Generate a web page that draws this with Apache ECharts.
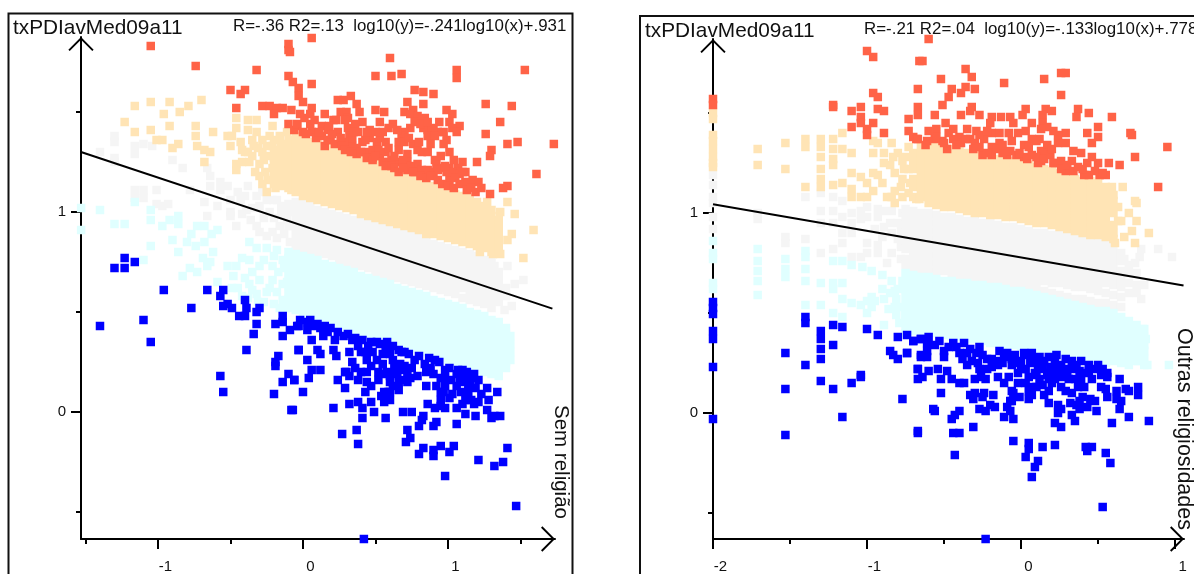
<!DOCTYPE html>
<html>
<head>
<meta charset="utf-8">
<style>html,body{margin:0;padding:0;background:#fff;overflow:hidden}#chart{width:1194px;height:574px}</style>
<script src="https://cdn.jsdelivr.net/npm/echarts@6/dist/echarts.min.js"></script>
</head>
<body>
<div id="chart"></div>
<script>
const majorTicksL = [-1, 0, 1];
const minorTicksL = [-1.5, -0.5, 0.5, 1.5];
const majorTicksR = [-2, -1, 0, 1];
const minorTicksR = [-1.5, -0.5, 0.5];
const majorTicksY = [0, 1];
const minorTicksY = [-0.5, 0.5, 1.5];
const fitL = [[-1.531, 1.3], [1.72, 0.517]];
const fitR = [[-2, 1.044], [1.055, 0.638]];

// left panel (Sem religião), single points
const redL = [[-1.05,1.83],[-.74,1.73],[-.32,1.71],[-.1,1.81],[-.1,1.84],[-.09,1.8],[-.5,1.61],[-.4,1.61],[-.43,1.59],[-.46,1.52],[-.1,1.68],[-.07,1.65],[-.03,1.62],[-.03,1.58],[-.28,1.53],[-.23,1.53],[-.18,1.52],[-.14,1.52],[-.2,1.49],[-.08,1.51],[-.1,1.44],[-.04,1.43],[-.06,1.41],[.06,1.87],[.6,1.77],[.5,1.68],[.61,1.68],[.68,1.69],[1.06,1.71],[1.06,1.67],[1.53,1.71],[.06,1.64],[0,1.55],[.77,1.61],[.83,1.6],[.9,1.59],[.33,1.58],[.24,1.56],[.28,1.56],[.37,1.54],[.72,1.55],[.83,1.54],[1.26,1.54],[1.44,1.53],[1.36,1.45],[1.26,1.39],[1.41,1.34],[1.48,1.35],[1.73,1.34],[1.3,1.31],[1.29,1.28],[1.61,1.19],[1.41,1.13],[1.38,1.12],[1.29,1.09],[1.2,1.25],[1.1,1.25],[1.01,1.3],[.92,1.24],
[.06,1.52],[.05,1.49],[.15,1.49],[.21,1.46],[.26,1.5],[.3,1.5],[.31,1.47],[.29,1.46],[.39,1.5],[.5,1.51],[.56,1.5],[.7,1.5],[.76,1.51],[.74,1.49],[.79,1.48],[.84,1.47],[.99,1.51],[1.03,1.49],[.94,1.45],[1.01,1.45],[1.08,1.43],[1.03,1.42],[1.06,1.4],[.97,1.4],[.93,1.4],[.99,1.36],[.97,1.34],[.9,1.42],[.86,1.41],[.83,1.42],[.86,1.38],[.74,1.42],[.7,1.4],[.68,1.38],[.66,1.35],[.76,1.34],[.82,1.3],[.86,1.3],
[-.04,1.44],[.05,1.44],[0,1.4],[.06,1.4],[.13,1.43],[.17,1.41],[.13,1.38],[.24,1.4],[.31,1.42],[.41,1.45],[.53,1.45],[.62,1.44],[.59,1.42],[.46,1.41],[.38,1.4],[.32,1.38],[.29,1.35],[.34,1.33],[.41,1.35],[.46,1.37],[.51,1.35],[.57,1.35],[.43,1.3],[.48,1.31],[.53,1.28],[.59,1.25],[.66,1.31],[.72,1.29],[.72,1.25],[.72,1.21],[.79,1.24],[.86,1.21],[.9,1.2],[.96,1.22],[1.01,1.22],[1.07,1.22],[1.01,1.16],[1.12,1.15],[1.17,1.16],[1.21,1.15],[1.03,1.2],[.99,1.2],
[.36,1.44],[.34,1.37],[.37,1.32],[.43,1.36],[.52,1.31],[.57,1.3],[.61,1.26],[.66,1.25],[.69,1.26],[.63,1.28],[.74,1.23],[.77,1.2],[.82,1.21],[.93,1.21],[.98,1.23],[1.08,1.19],[1.05,1.17],[1.1,1.2],[.19,1.36],[.22,1.34],[.26,1.37],[.15,1.33],[.08,1.46],[-.02,1.49],[.01,1.47],[.77,1.45],[.81,1.44],[.86,1.45],[.91,1.38],[.53,1.37],[.59,1.32],[.48,1.27],[.7,1.35],[.79,1.31],[.91,1.26],
[.02,1.39],[.09,1.37],[.11,1.4],[.17,1.36],[.2,1.39],[.27,1.33],[.29,1.31],[.33,1.3],[.37,1.29],[.4,1.3],[.44,1.27],[.48,1.26],[.5,1.28],[.55,1.25],[.57,1.23],[.61,1.23],[.63,1.22],[.66,1.2],[.69,1.22],[.76,1.2],[.81,1.18],[.85,1.17],[.88,1.18],[.93,1.16],[.96,1.14],[1,1.13],[1.04,1.12],[1.08,1.14],[1.13,1.11],[1.16,1.12],[1.19,1.1],[1.23,1.12],[.18,1.43],[.23,1.46],[.35,1.4],[.44,1.4],[.5,1.4],[.55,1.4],[.65,1.41],[.73,1.37],[.8,1.35],[.88,1.34],[.95,1.28],[1.04,1.26],[1.12,1.2]];
const tanSparseL = [[-1.16,1.53],[-1.05,1.55],[-.92,1.55],[-.96,1.49],[-.85,1.5],[-.79,1.53],[-.7,1.56],[-1.23,1.45],[-1.16,1.4],[-1.05,1.41],[-.92,1.43],[-1.01,1.36],[-.97,1.36],[-.86,1.34],[-.9,1.32],[-.74,1.43],[-.74,1.38],[-.62,1.4],[-.73,1.33],[-.68,1.31],[-.64,1.3],[-.68,1.25],[-.46,1.47],[-.46,1.42],[-.38,1.46],[-.32,1.46],[-.38,1.41],[-.32,1.4],[-.21,1.43],[-.52,1.38],[-.49,1.38],[-.5,1.33],[-.43,1.35],[-.4,1.3],[-.46,1.24],[-.46,1.21],[-.37,1.25],[-.3,1.24],[-.34,1.33],[-.28,1.36],[-.23,1.38],[-.28,1.3],[-.21,1.33],[-.21,1.22],[-.16,1.38],[-.11,1.4],[-.16,1.27],[-.09,1.31],[-.14,1.2],[-.08,1.11],[-.07,1.18],
[1.27,1.05],[1.41,1.05],[1.36,1],[1.28,.98],[1.46,.99],[1.59,.91],[1.44,.89],[1.41,.86],[1.52,.77],[1.31,.79],[1.36,.79],[1.22,.8],
[-.38,1.3],[-.35,1.28],[-.33,1.2],[-.31,1.32],[-.27,1.26],[-.26,1.2],[-.25,1.33],[-.24,1.28],[-.24,1.16],[-.3,1.18],[-.35,1.36],[-.42,1.25],[-.42,1.31],[-.28,1.14],[-.25,1.1],[-.19,1.12]];
const graySparseL = [[-1.3,1.38],[-1.3,1.35],[-1.4,1.3],[-1.3,1.27],[-1.3,1.25],[-1.16,1.33],[-1.16,1.29],[-1.1,1.34],[-1.04,1.33],[-.9,1.26],[-.83,1.22],[-.66,1.22],[-1.16,1.11],[-1.16,1.07],[-1.1,1.11],[-1.1,1.07],[-1.01,1.11],[-1.01,1.04],[-.97,1.03],[-.93,1.04],[-.78,1.11],[-.68,1.05],[-.66,.98],[-.59,1.03],[-.64,1.18],[-.64,1.13],[-.57,1.15],[-.57,1.11],[-.52,1.13],[-.5,1.06],[-.5,.98],[-.46,.93],[-.43,1.06],[-.39,1.01],[-.38,1.13],[-.32,1.08],[-.32,.93],[-.28,1.1],[-.21,1.06],[-.23,1],[-.14,1.03],[-.3,.9],[-.21,.9],[-.09,.85],[-.07,.93],[-.11,.96],[-.16,.93],[-.1,1.04],[-.1,1],[-.15,.99],[-.15,1.02],
[1.41,.73],[1.32,.73],[1.46,.64],[1.52,.66],[1.39,.51],[1.44,.53],[1.31,.57],
[-.5,1],[-.45,1.1],[-.42,.99],[-.4,1.08],[-.36,.96],[-.35,1.02],[-.3,1.03],[-.27,.97],[-.25,1.06],[-.25,.88],[-.2,.97],[-.18,1.06],[-.18,.87],[-.13,.89],[-.12,.98],[-.1,.93],[-.05,.8]];
const cyanSparseL = [[-1.53,1.02],[-1.53,.91],[-1.4,1.01],[-1.3,.94],[-1.23,.94],[-1.16,1.05],[-1.05,1.01],[-1.05,.96],[-1.1,.76],[-1.05,.83],[-.97,.93],[-.92,.96],[-.86,.98],[-.86,.94],[-.9,.86],[-.86,.8],[-.83,.68],[-.78,.72],[-.73,.7],[-.73,.93],[-.68,.93],[-.59,.91],[-.63,.89],[-.77,.89],[-.8,.85],[-.74,.83],[-.68,.85],[-.62,.8],[-.69,.77],[-.64,.75],[-.66,.73],[-.59,.65],[-.52,.73],[-.46,.73],[-.42,.77],[-.37,.85],[-.32,.82],[-.25,.82],[-.18,.81],[-.09,.78],[-.14,.76],[-.37,.76],[-.3,.73],[-.21,.73],[-.48,.68],[-.37,.64],[-.3,.66],[-.21,.66],[-.09,.7],[-.11,.65],[-.49,.62],[-.35,.61],[-.32,.59],[-.25,.6],[-.14,.56],[-.09,.57],[-.07,.53],[-.31,.55],[-.38,.57],
[-.45,.62],[-.4,.67],[-.35,.7],[-.27,.76],[-.27,.55],[-.23,.62],[-.2,.78],[-.18,.6],[-.17,.7],[-.14,.64],[-.13,.72],[-.12,.52],[-.16,.52],[-.2,.54],[-.42,.58]];
const blueL = [[-1.3,.72],[-1.23,.77],[-1.16,.75],[-1.23,.72],[-1.4,.43],[-1.1,.46],[-1.05,.35],[-.96,.61],[-.77,.52],[-.66,.61],[-.55,.61],[-.57,.58],[-.55,.53],[-.52,.54],[-.49,.52],[-.4,.56],[-.39,.52],[-.44,.48],[-.4,.48],[-.32,.5],[-.3,.52],[-.32,.44],[-.34,.39],[-.39,.31],[-.57,.18],[-.55,.1],[-.2,.09],[-.08,.01],[-.14,.15],[-.1,.19],[-.06,.16],[-.19,.23],[-.19,.25],[-.17,.28],[-.14,.38],[-.09,.41],[-.19,.44],[-.14,.45],[-.14,.48],[-.03,.43],[-.03,.31],
[.42,-.635],[1.47,-.47],[.98,-.32],[1.21,-.24],[1.32,-.27],[1.38,-.25],[1.41,-.18],[.8,-.21],[.83,-.18],[.9,-.19],[.9,-.22],[.95,-.17],[1.04,-.17],[1.01,-.2],[.38,-.16],[.27,-.11],[.37,-.09],[.71,-.15],[.74,-.13],[.72,-.09],[.8,-.07],[.82,-.04],[.83,-.02],[.9,-.07],[.92,-.05],[1.06,-.06],[1.19,-.02],[1.3,-.03],[1.36,-.02],[1.32,-.02],[1.27,.01],[1.12,-.01],[.41,-.03],[.57,-.03],[.49,0],[.21,.02],[-.07,.01],[.32,.04],[.38,.05],[.41,.02],[.47,.05],[.69,0],[.75,0],[.86,.04],[.91,.02],[.98,.02],[1.06,.02],[1.1,.04],[1.12,.06],
[0,.1],[.04,.17],[-.06,.16],[.06,.21],[.12,.21],[.03,.26],[-.03,.31],[.12,.29],[.1,.31],[.21,.31],[.23,.28],[.29,.12],[.24,.16],[.29,.2],[.43,.1],[.44,.15],[.57,.07],[.54,.08],[.59,.1],[.66,.11],
[-.04,.43],[.03,.45],[.03,.41],[.08,.43],[.12,.42],[.14,.38],[.06,.36],[.17,.4],[.22,.36],[.28,.38],[.34,.36],[.32,.3],[.38,.33],[.45,.33],[.51,.35],[.57,.33],[.66,.31],[.7,.3],[.77,.26],[.91,.26],[.84,.24],[.98,.21],[1.1,.21],[1.06,.19],
[.34,.25],[.44,.26],[.51,.26],[.55,.24],[.62,.26],[.67,.24],[.3,.2],[.44,.2],[.52,.2],[.58,.2],[.65,.19],[.72,.2],[.79,.18],[.9,.19],[.98,.17],[1.17,.17],[1.21,.16],
[.38,.16],[.52,.16],[.6,.15],[.7,.16],[.74,.17],[.85,.13],[.92,.13],[1.06,.13],[1.1,.15],[1.14,.13],[1.19,.12],[1.27,.12],[1.34,.1],[1.23,.09],[1.28,.06],[1.21,.05],[1.13,.08],[1.03,.09],[.95,.1],[.95,.06],[1.01,.07],[.6,.1],
[-.02,.46],[.05,.46],[.1,.44],[.15,.43],[.19,.42],[.24,.4],[.31,.39],[.36,.37],[.41,.36],[.47,.35],[.53,.34],[.58,.35],[.62,.33],[.68,.3],[.73,.29],[.8,.28],[.87,.27],[.94,.25],[1.01,.22],[1.07,.21],[1.13,.2],[1.18,.19],[.4,.3],[.43,.3],[.48,.3],[.55,.29],[.6,.29],[.63,.22],[.68,.21],[.7,.23],[.75,.22],[.85,.2],[.88,.22],[.95,.17],[1.02,.16],[1.08,.17],[1.12,.18],[1.15,.16],[.36,.22],[.4,.2],[.47,.23],[.55,.19],[.6,.18],[.66,.15],[.72,.15],[.98,.13],[1.14,.1],[.32,.18],[.47,.13],[.56,.1],[.62,.13],[.6,.06],[.56,.05],[.95,.03],[.97,.1],[1.09,.1],[1.16,.06],[1.18,.04]];

// left panel, dense bands as [x, [y, y, ...]]
const tanBandL = [[-.2,[1.36,1.31,1.27,1.24,1.2,1.17,1.14]],[-.15,[1.34,1.3,1.27,1.23,1.2,1.16,1.13]],[-.1,[1.36,1.33,1.29,1.26,1.22,1.19,1.15,1.12]],[-.05,[1.38,1.34,1.31,1.27,1.24,1.2,1.17,1.13,1.1]],
[0,[1.37,1.33,1.3,1.26,1.23,1.19,1.15,1.12,1.08]],[.05,[1.35,1.32,1.28,1.25,1.21,1.17,1.14,1.1,1.07]],[.1,[1.34,1.31,1.27,1.23,1.2,1.16,1.13,1.09,1.06]],[.15,[1.33,1.29,1.26,1.22,1.19,1.15,1.12,1.08,1.05]],[.2,[1.32,1.28,1.25,1.21,1.17,1.14,1.1,1.07,1.04]],[.25,[1.3,1.27,1.23,1.2,1.16,1.13,1.09,1.06,1.03]],[.3,[1.29,1.25,1.22,1.18,1.15,1.11,1.08,1.04,1.02]],[.35,[1.28,1.24,1.21,1.17,1.14,1.1,1.07,1.03,1.01]],[.4,[1.26,1.23,1.19,1.16,1.12,1.09,1.05,1.02,.99]],[.45,[1.25,1.21,1.18,1.14,1.11,1.07,1.04,1.01,.98]],[.5,[1.24,1.2,1.17,1.13,1.1,1.06,1.03,.99,.97]],[.55,[1.22,1.19,1.15,1.12,1.08,1.05,1.01,.98,.96]],[.6,[1.21,1.17,1.14,1.1,1.07,1.03,1,.97,.95]],[.65,[1.2,1.16,1.13,1.09,1.05,1.02,.99,.96,.94]],[.7,[1.18,1.15,1.11,1.08,1.04,1.01,.97,.94,.93]],[.75,[1.17,1.13,1.1,1.06,1.03,.99,.96,.93,.92]],[.8,[1.16,1.12,1.09,1.05,1.01,.98,.95,.92,.91]],[.85,[1.14,1.11,1.07,1.04,1,.97,.94,.91,.89]],[.9,[1.13,1.09,1.06,1.02,.99,.95,.92,.89]],[.95,[1.12,1.08,1.05,1.01,.98,.94,.91,.88]],[1,[1.11,1.07,1.04,1,.97,.93,.9,.87]],[1.05,[1.09,1.06,1.02,.99,.95,.92,.89,.86]],[1.1,[1.08,1.05,1.01,.98,.94,.91,.88,.85]],[1.15,[1.07,1.03,1,.96,.93,.9,.87,.84]],[1.2,[1.05,1.02,.98,.95,.92,.89,.86,.83]],[1.25,[1.03,1,.97,.94,.91,.88,.85,.82]],[1.3,[1.01,.98,.95,.92,.89,.86,.83,.8]],[1.35,[.96,.93,.9,.87,.84,.81]]];
const grayBandL = [[-.05,[1.05,1.01,.98,.94,.91,.87,.84]],[0,[1.04,1,.97,.93,.9,.86,.82]],[.05,[1.03,.99,.96,.92,.89,.85,.81]],[.1,[1.01,.98,.94,.91,.87,.84,.8]],[.15,[1,.97,.93,.9,.86,.82,.79]],[.2,[.99,.95,.92,.88,.85,.81,.78]],[.25,[.98,.94,.91,.87,.84,.8,.76]],[.3,[.97,.93,.9,.86,.83,.79,.75]],[.35,[.96,.92,.88,.85,.81,.78,.74]],[.4,[.95,.91,.87,.84,.8,.77,.73]],[.45,[.94,.9,.86,.83,.79,.75,.72]],[.5,[.93,.89,.85,.82,.78,.74,.7]],[.55,[.92,.88,.84,.81,.77,.73,.69]],[.6,[.91,.87,.83,.8,.76,.72,.68]],[.65,[.9,.86,.82,.79,.75,.71,.67]],[.7,[.89,.85,.81,.78,.74,.7,.66]],[.75,[.88,.84,.8,.77,.73,.69,.65]],[.8,[.87,.83,.79,.75,.72,.68,.64]],[.85,[.85,.82,.78,.74,.71,.67,.63]],[.9,[.84,.81,.77,.73,.7,.66,.62]],[.95,[.83,.8,.76,.72,.69,.65,.61]],[1,[.82,.78,.75,.71,.67,.64,.6]],[1.05,[.81,.77,.74,.7,.66,.63,.59]],[1.1,[.8,.76,.73,.69,.65,.62,.57]],[1.15,[.79,.75,.72,.68,.64,.6,.56]],[1.2,[.78,.74,.7,.67,.63,.59,.55]],[1.25,[.76,.73,.69,.65,.62,.58,.54]],[1.3,[.75,.71,.68,.64,.6,.56,.52]],[1.35,[.7,.67,.63,.59,.55]],[1.4,[.62,.58]]];
const cyanBandL = [[-.1,[.8,.77,.73,.7,.66,.63,.59,.56,.52]],[-.05,[.79,.76,.72,.69,.65,.62,.58,.55,.51]],[0,[.78,.74,.71,.67,.64,.6,.57,.53,.49]],[.05,[.77,.73,.7,.66,.63,.59,.56,.52,.48]],[.1,[.76,.72,.69,.65,.62,.58,.55,.51,.47]],[.15,[.74,.71,.67,.64,.6,.57,.53,.5,.46]],[.2,[.73,.7,.66,.63,.59,.56,.52,.48,.45]],[.25,[.72,.68,.65,.61,.58,.54,.51,.47,.43]],[.3,[.71,.67,.64,.6,.57,.53,.5,.46,.42]],[.35,[.7,.66,.62,.59,.55,.52,.48,.45,.41]],[.4,[.68,.65,.61,.58,.54,.5,.47,.43,.4]],[.45,[.67,.63,.6,.56,.53,.49,.46,.42,.39]],[.5,[.66,.62,.59,.55,.52,.48,.45,.41,.38]],[.55,[.65,.61,.58,.54,.5,.47,.43,.4,.36]],[.6,[.64,.6,.56,.53,.49,.46,.42,.39,.35]],[.65,[.62,.59,.55,.52,.48,.44,.41,.37,.34]],[.7,[.61,.58,.54,.5,.47,.43,.4,.36,.33]],[.75,[.6,.56,.53,.49,.46,.42,.38,.35,.32]],[.8,[.59,.55,.52,.48,.44,.41,.37,.34,.31]],[.85,[.58,.54,.5,.47,.43,.4,.36,.33,.3]],[.9,[.56,.53,.49,.46,.42,.38,.35,.31,.28]],[.95,[.55,.52,.48,.44,.41,.37,.34,.3,.27]],[1,[.54,.5,.47,.43,.4,.36,.33,.29,.26]],[1.05,[.53,.49,.46,.42,.38,.35,.31,.28,.25]],[1.1,[.52,.48,.44,.41,.37,.34,.3,.27,.24]],[1.15,[.5,.47,.43,.4,.36,.33,.29,.26,.23]],[1.2,[.49,.46,.42,.38,.35,.31,.28,.24,.21]],[1.25,[.48,.44,.41,.37,.34,.3,.26,.23,.2]],[1.3,[.46,.43,.39,.36,.32,.29,.25,.22,.19]],[1.35,[.45,.41,.38,.34,.31,.27,.24,.2,.18]],[1.4,[.42,.39,.35,.32,.28,.25,.22]],[1.43,[.38,.34,.3,.26]]];

// right panel (Outras religiosidades), single points
const redR = [[-2,1.57],[-2,1.54],[-1,1.81],[-.96,1.78],[-.96,1.6],[-.93,1.58],[-1.22,1.54],[-1.22,1.53],[-1.1,1.51],[-1.04,1.53],[-.93,1.52],[-.89,1.51],[-1.04,1.48],[-1.04,1.45],[-.96,1.45],[-1.1,1.43],[-1,1.42],[-1,1.39],[-.89,1.4],[-.73,1.47],[-.73,1.41],[-.7,1.38],[-.68,1.37],[-.67,1.62],[-.67,1.53],[-.67,1.49],[-.66,1.76],
[-.6,1.87],[-.64,1.76],[-.36,1.72],[-.32,1.68],[-.52,1.67],[-.45,1.62],[-.36,1.63],[-.3,1.62],[-.39,1.6],[-.47,1.58],[-.11,1.65],[.15,1.67],[.26,1.7],[.29,1.7],[.26,1.59],[-.51,1.54],[-.32,1.53],[-.33,1.51],[-.56,1.49],[-.39,1.49],[-.27,1.49],[.03,1.52],[.16,1.52],[.2,1.51],[.37,1.52],[.44,1.5],[.36,1.48],[.59,1.48],[-.07,1.48],[.01,1.49],[.14,1.49],[-.19,1.48],[-.13,1.48],[-.2,1.45],[-.05,1.45],[.07,1.45],[.14,1.45],[.5,1.43],[.43,1.4],[.5,1.38],[.46,1.35],[.71,1.4],[.72,1.39],[.95,1.33],[.74,1.28],[.89,1.13],[.57,1.25],[.64,1.24],[.5,1.25],[.43,1.25],[.55,1.19],[.51,1.19],[.41,1.19],[.44,1.19],[.39,1.3],[.46,1.28],[.33,1.26],[.29,1.21],[.22,1.25],[.26,1.26],[.17,1.34],[.24,1.35],[.29,1.35],[.29,1.4],[.24,1.39],[.21,1.41],[.17,1.43],[.13,1.42],[.12,1.37],[.07,1.37],[.03,1.41],[-.02,1.4],[-.08,1.4],[.02,1.34],[.02,1.28],[-.03,1.29],[-.09,1.29],[-.12,1.3],[.13,1.31],[.13,1.26],[.11,1.25],[.17,1.3],[-.14,1.35],[-.19,1.33],[-.25,1.29],[-.19,1.29],[-.24,1.37],[-.19,1.4],[-.29,1.41],[-.35,1.42],[-.33,1.37],[-.4,1.38],[-.3,1.35],[-.39,1.35],[-.49,1.45],[-.55,1.42],[-.6,1.41],[-.47,1.4],[-.51,1.36],[-.56,1.37],[-.61,1.36],[-.48,1.32],[-.67,1.37],
[-.62,1.34],[-.55,1.38],[-.5,1.35],[-.44,1.37],[-.42,1.34],[-.36,1.37],[-.31,1.32],[-.27,1.33],[-.22,1.3],[-.16,1.32],[-.12,1.34],[-.07,1.31],[-.01,1.3],[.04,1.27],[.07,1.29],[.1,1.28],[.15,1.27],[.19,1.29],[.21,1.25],[.26,1.22],[.3,1.24],[.34,1.21],[.37,1.23],[.4,1.22],[.48,1.21],[.53,1.2],[-.27,1.39],[-.22,1.41],[-.14,1.4],[-.06,1.36],[.05,1.33],[.1,1.36],[.2,1.32],[.34,1.31],[-.44,1.42]];
const tanSparseR = [[-2,1.5],[-2,1.47],[-2,1.39],[-2,1.36],[-2,1.32],[-2,1.28],[-2,1.25],[-2,1.23],[-1.71,1.32],[-1.71,1.24],[-1.53,1.35],[-1.53,1.22],[-1.4,1.37],[-1.4,1.33],[-1.4,1.13],[-1.3,1.37],[-1.3,1.33],[-1.3,1.28],[-1.3,1.22],[-1.3,1.17],[-1.3,1.13],[-1.22,1.37],[-1.22,1.32],[-1.22,1.27],[-1.22,1.24],[-1.22,1.14],[-1.16,1.4],[-1.16,1.32],[-1.16,1.15],[-1.1,1.3],[-1.1,1.2],[-1.1,1.12],[-1.1,1.08],[-1.04,1.18],[-1.04,1.08],[-1,1.15],[-1,1.08],[-.96,1.36],[-.96,1.3],[-.96,1.2],[-.96,1.11],[-.93,1.19],[-.93,1.35],[-.89,1.3],[-.89,1.25],[-.87,1.08],[-.84,1.35],[-.83,1.28],[-.82,1.2],[-.82,1.11],[-.82,1.05],[-.77,1.26],[-.77,1.17],[-.77,1.08],[-.73,1.33],[-.73,1.22],[-.73,1.1],[-.68,1.23],[-.68,1.15],[-.68,1.07],[-.64,1.33],[-.64,1.17],[-.64,1.08],
[.66,1.13],[.74,1.06],[.75,1.05],[.83,.9],[.75,.96],[.7,1],[.72,.91],[.74,.85],[.67,.88],[.61,.85],[.63,.96],[.59,1.03],[.59,1.13],[.54,1.08],[.63,1.03],[.56,.91],[.65,.96],
[-.9,1.15],[-.85,1.24],[-.8,1.3],[-.78,1.13],[-.75,1.28],[-.72,1.15],[-.7,1.08],[-.66,1.07],[-.84,1.08],[-.76,1.22]];
const graySparseR = [[-2,1.19],[-2,1.14],[-2,1.08],[-2,1.05],[-2,.98],[-2,.92],[.78,.82],[.77,.78],[.89,.82],[.98,.78],[.8,.64],[.67,.77],[.74,.75],[.78,.57],[-1.71,1],[-1.71,.97],[-1.53,.88],[-1.53,.85],[-1.4,1.08],[-1.4,.87],[-1.3,1.1],[-1.3,1.01],[-1.3,.95],[-1.3,.8],[-1.22,1.08],[-1.22,1.01],[-1.22,.95],[-1.22,.82],[-1.16,1.06],[-1.16,.98],[-1.16,.9],[-1.16,.85],[-1.1,1],[-1.1,.95],[-1.1,.9],[-1.1,.78],[-1.04,1.01],[-1.04,.97],[-1.04,.78],[-1,1.03],[-1,.98],[-1,.85],[-1,.8],[-.93,1.02],[-.93,.98],[-.93,.84],[-.93,.8],[-.89,1.01],[-.89,.93],[-.84,1.01],[-.84,.9],[-.84,.8],[-.77,1],[-.78,.83],[-.73,.92],[-.78,.77],[-.87,.75],
[-.95,.92],[-.9,.88],[-.85,.95],[-.8,.95],[-.8,.87],[-.78,.91]];
const cyanSparseR = [[-2,.86],[-2,.8],[-2,.77],[-2,.65],[-2,.62],[.79,.42],[.81,.37],[.96,.24],[.82,.24],[.76,.26],[.63,.28],[.56,.34],[-1.71,.82],[-1.71,.76],[-1.71,.71],[-1.71,.66],[-1.53,.77],[-1.53,.72],[-1.53,.68],[-1.4,.81],[-1.4,.78],[-1.4,.72],[-1.4,.66],[-1.3,.65],[-1.22,.76],[-1.22,.65],[-1.16,.76],[-1.16,.65],[-1.1,.74],[-1.03,.73],[-.97,.71],[-.9,.69],[-.84,.66],[-.77,.66],[-.68,.68],[-1.71,.59],[-1.4,.54],[-1.3,.54],[-1.22,.5],[-1.22,.62],[-1.16,.57],[-1.16,.48],[-1.1,.55],[-1.04,.54],[-1,.56],[-1,.5],[-.97,.58],[-.97,.53],[-.89,.57],[-.89,.44],[-.81,.49],[-.81,.57],[-.75,.49],[-.82,.61],[-.69,.44],[-.7,.59],
[-.95,.56],[-.9,.62],[-.86,.52],[-.82,.53],[-.8,.62],[-.79,.45],[-.78,.53],[-.85,.6]];
const blueR = [[-2,.555],[-2,.525],[-2,.495],[-2,.41],[-2,.37],[-2,.23],[-2,-.03],[-1.53,.3],[-1.53,.12],[-1.53,-.11],[-1.4,.48],[-1.4,.45],[-1.4,.24],[-1.3,.41],[-1.3,.37],[-1.3,.32],[-1.3,.27],[-1.3,.16],[-1.22,.44],[-1.22,.34],[-1.22,.12],[-1.16,.43],[-1.16,-.02],[-1.1,.15],[-1.04,.19],[-1.04,.18],[-1,.42],[-.93,.39],[-.85,.31],[-.83,.29],[-.8,.27],[-.8,.38],[-.74,.39],[-.74,.3],[-.7,.36],[-.77,.07],[-.67,-.09],[-.67,.22],[-.67,.17],[-.65,.37],[-.65,.29],
[-.23,-.63],[.53,-.47],[.07,-.32],[.09,-.27],[.11,-.24],[.03,-.22],[.05,-.18],[.05,-.15],[.14,-.17],[.22,-.16],[-.05,-.14],[-.43,-.21],[-.67,-.1],[-.44,-.1],[-.4,-.1],[-.31,-.07],[-.45,-.03],[-.43,-.01],[-.4,.01],[-.57,.02],[-.56,.01],[-.27,.02],[-.23,.01],[-.2,.04],[-.17,.03],[-.11,-.02],[-.05,-.03],[-.07,.01],[.42,-.17],[.43,-.19],[.46,-.17],[.55,-.2],[.58,-.25],[.83,-.04],[.59,-.05],[.7,-.02],[.64,.02],[.22,-.05],[.26,-.07],[.35,-.04],[.24,0],[.26,.02],[.24,.04],[.18,.05],[.32,.05],[.38,.06],[.33,-.01],[.38,.02],[.43,.03],[.49,.01],[.48,.06],
[-.52,.1],[-.33,.09],[-.3,.1],[-.24,.1],[-.25,.08],[-.31,.07],[-.18,.09],[-.06,.11],[-.01,.08],[.05,.11],[.07,.09],[.05,.07],[-.06,.06],[.18,.11],[.26,.13],[.29,.11],[.33,.1],[.52,.13],[.55,.12],[.56,.08],[.62,.11],[.62,.07],[.65,.06],[.68,.12],[.7,.11],[.76,.13],[.76,.09],[.64,.17],[.56,.18],[.56,.2],[.53,.22],
[-.7,.36],[-.65,.37],[-.61,.35],[-.56,.34],[-.74,.3],[-.65,.28],[-.61,.31],[-.61,.28],[-.5,.31],[-.5,.28],[-.44,.35],[-.37,.35],[-.4,.3],[-.35,.3],[-.38,.27],[-.32,.26],[-.27,.33],[-.25,.29],[-.27,.22],[-.19,.27],[-.19,.23],[-.14,.31],[-.11,.28],[-.12,.25],[-.06,.27],[-.06,.24],[0,.26],[.05,.29],[.1,.27],[.15,.26],[.22,.26],[0,.22],[.09,.2],[.17,.2],[.26,.24],[.36,.24],[.3,.2],[.41,.2],[.48,.22],
[-.67,.22],[-.64,.18],[-.6,.21],[-.54,.22],[-.52,.17],[-.48,.21],[-.45,.17],[-.4,.15],[-.37,.15],[-.3,.17],[-.26,.18],[-.23,.17],[-.15,.18],[-.11,.15],[-.08,.18],[-.02,.15],[.03,.15],[.1,.19],[.14,.14],[.2,.15],[.17,.19],[.26,.18],[.35,.17],[.41,.13],[.46,.17],[.37,.13],
[-.6,.38],[-.53,.36],[-.47,.33],[-.42,.33],[-.33,.32],[-.29,.3],[-.22,.27],[-.16,.26],[-.09,.3],[-.04,.29],[.02,.3],[.07,.3],[.12,.28],[.18,.28],[.23,.29],[.29,.27],[.33,.26],[.39,.26],[.44,.24],[.5,.24],[.03,.22],[.06,.25],[.11,.24],[.14,.22],[.19,.23],[.22,.21],[.24,.22],[.29,.22],[.33,.22],[.38,.21],[.44,.21],[.52,.19],[.12,.17],[.18,.17],[.22,.17],[.31,.17],[.39,.17],[-.35,.24],[-.28,.25],[-.22,.22],[-.15,.24],[-.03,.25],[-.02,.2],[.05,.18],[-.05,.1],[-.07,.06],[-.09,.03],[.1,.13],[.07,.13],[.15,.09],[.36,.04],[.4,.08],[.45,.07]];

// right panel, dense bands
const tanBandR = [[-.7,[1.3,1.26,1.22,1.17,1.13]],[-.65,[1.33,1.29,1.26,1.22,1.18,1.14,1.1]],[-.6,[1.33,1.29,1.25,1.22,1.18,1.15,1.11,1.08,1.05]],[-.55,[1.33,1.29,1.26,1.22,1.19,1.15,1.11,1.08,1.04]],[-.5,[1.32,1.29,1.25,1.22,1.18,1.14,1.11,1.07,1.03]],[-.45,[1.32,1.28,1.25,1.21,1.17,1.14,1.1,1.06,1.03]],[-.4,[1.31,1.28,1.24,1.2,1.17,1.13,1.1,1.06,1.02]],[-.35,[1.3,1.27,1.23,1.2,1.16,1.12,1.09,1.05,1.01]],[-.3,[1.29,1.26,1.22,1.19,1.15,1.11,1.08,1.04,1]],[-.25,[1.29,1.25,1.22,1.18,1.15,1.11,1.07,1.04,1]],[-.2,[1.28,1.25,1.21,1.18,1.14,1.1,1.07,1.03,.99]],[-.15,[1.27,1.24,1.2,1.17,1.13,1.1,1.06,1.02,.99]],[-.1,[1.26,1.23,1.2,1.16,1.13,1.09,1.05,1.02,.98]],[-.05,[1.26,1.22,1.19,1.15,1.12,1.08,1.05,1.01,.98]],[0,[1.25,1.21,1.18,1.14,1.11,1.07,1.04,1,.97]],[.05,[1.24,1.2,1.17,1.13,1.1,1.06,1.03,.99,.96]],[.1,[1.23,1.2,1.16,1.13,1.09,1.06,1.02,.99,.95]],[.15,[1.22,1.18,1.15,1.11,1.08,1.04,1.01,.97,.95]],[.2,[1.21,1.17,1.14,1.1,1.07,1.03,1,.97,.94]],[.25,[1.2,1.16,1.13,1.09,1.06,1.02,.99,.96,.93]],[.3,[1.18,1.15,1.11,1.08,1.04,1.01,.98,.95,.92]],[.35,[1.17,1.14,1.1,1.07,1.03,1,.97,.94,.91]],[.4,[1.16,1.13,1.09,1.06,1.02,.99,.96,.93,.9]],[.45,[1.16,1.12,1.08,1.05,1.01,.98,.95,.92,.89]],[.5,[1.15,1.11,1.08,1.04,1,.97,.94,.91,.89]],[.55,[1.13,1.1,1.07,1.03,.99,.96,.93,.9,.88]],[.6,[1.09,1.06,1,.94,.9,.87]]];
const grayBandR = [[-.75,[1.02,.98,.94,.9,.86,.82,.77,.74]],[-.7,[1.01,.97,.93,.89,.85,.81,.77,.73]],[-.65,[1,.96,.92,.88,.84,.8,.76,.72]],[-.6,[1,.96,.92,.88,.84,.8,.76,.72]],[-.55,[.99,.95,.91,.87,.83,.79,.75,.71]],[-.5,[.98,.94,.9,.86,.82,.78,.75,.71]],[-.45,[.98,.94,.9,.86,.82,.78,.74,.7]],[-.4,[.97,.93,.89,.85,.81,.77,.73,.69]],[-.35,[.96,.92,.88,.84,.8,.76,.72,.69]],[-.3,[.96,.92,.88,.84,.8,.76,.72,.68]],[-.25,[.95,.91,.87,.83,.79,.75,.71,.68]],[-.2,[.95,.91,.87,.83,.79,.75,.71,.67]],[-.15,[.94,.9,.86,.82,.78,.74,.7,.67]],[-.1,[.93,.89,.85,.81,.77,.73,.69,.66]],[-.05,[.93,.89,.85,.81,.77,.73,.69,.65]],[0,[.92,.88,.84,.8,.76,.72,.68,.65]],[.05,[.91,.87,.83,.79,.75,.71,.67,.64]],[.1,[.9,.86,.82,.78,.74,.7,.66,.62]],[.15,[.9,.86,.82,.78,.74,.7,.66,.61]],[.2,[.89,.85,.81,.77,.73,.69,.65,.6]],[.25,[.89,.85,.81,.77,.73,.69,.65,.59]],[.3,[.88,.84,.8,.76,.72,.68,.64,.58]],[.35,[.87,.83,.79,.75,.71,.67,.63,.57]],[.4,[.87,.83,.79,.75,.71,.67,.63,.57]],[.45,[.86,.82,.78,.74,.7,.66,.62,.56]],[.5,[.85,.81,.77,.73,.69,.65,.61,.55]],[.55,[.85,.81,.77,.73,.69,.65,.6,.55]],[.6,[.84,.8,.76,.72,.68,.64,.59,.54]],[.65,[.8,.76,.71,.67,.63,.58,.53]],[.7,[.74,.7,.65,.6]],[.75,[.7,.64,.6]]];
const cyanBandR = [[-.75,[.7,.66,.62,.58,.54,.5,.46,.43,.4]],[-.7,[.69,.65,.61,.57,.53,.49,.46,.43,.41]],[-.65,[.68,.64,.6,.56,.52,.48,.45,.42,.41]],[-.6,[.68,.64,.6,.56,.52,.48,.44,.41]],[-.55,[.67,.63,.59,.55,.51,.47,.44,.4]],[-.5,[.66,.62,.58,.54,.5,.46,.42,.39]],[-.45,[.66,.62,.58,.54,.5,.46,.42,.38]],[-.4,[.65,.61,.57,.53,.49,.45,.41,.38]],[-.35,[.65,.61,.57,.53,.49,.45,.41,.37]],[-.3,[.64,.6,.56,.52,.48,.44,.4,.37]],[-.25,[.64,.6,.56,.52,.48,.44,.4,.36]],[-.2,[.63,.59,.55,.51,.47,.43,.39,.35]],[-.15,[.63,.59,.55,.51,.47,.43,.39,.35]],[-.1,[.62,.58,.54,.5,.46,.42,.38,.34]],[-.05,[.61,.57,.53,.49,.45,.41,.37,.34]],[0,[.61,.57,.53,.49,.45,.41,.37,.33]],[.05,[.6,.56,.52,.48,.44,.4,.36,.33]],[.1,[.59,.55,.51,.47,.43,.39,.35,.32]],[.15,[.58,.54,.5,.46,.42,.38,.34,.32]],[.2,[.57,.53,.49,.45,.41,.37,.33,.31]],[.25,[.56,.52,.48,.44,.4,.36,.32,.3]],[.3,[.55,.51,.47,.43,.39,.35,.31,.29]],[.35,[.54,.5,.46,.42,.38,.34,.3,.29]],[.4,[.53,.49,.45,.41,.37,.33,.29,.28]],[.45,[.52,.48,.44,.4,.36,.32,.28,.27]],[.5,[.51,.47,.43,.39,.35,.31,.27,.26]],[.55,[.51,.47,.43,.39,.35,.31,.27,.25]],[.6,[.5,.46,.42,.38,.34,.3,.26]],[.65,[.48,.44,.4,.36,.32,.29,.25]],[.7,[.46,.42,.38,.34,.31,.27,.24]],[.75,[.44,.4,.36,.32,.29,.26]],[.8,[.42,.38,.34,.31,.27,.24]]];

const chevron = 'path://M13 0 L26 13 L24.6 14.4 L13 2.8 L1.4 14.4 L0 13 Z';
const FONT = '"Liberation Sans", Arial, sans-serif';
const COLORS = { red: '#FF6347', tan: '#FFE4B5', gray: '#F5F5F5', cyan: '#E0FFFF', blue: '#0000FF' };

const expand = (band) => band.flatMap(([x, ys]) => ys.map((y) => [x, y]));

function xAxes(grid, min, max, major, minor) {
    const base = { type: 'value', gridIndex: grid, min, max, splitLine: { show: false } };
    return [
        { ...base, position: 'bottom',
          axisLine: { onZero: false, symbol: ['none', chevron], symbolSize: [26, 14], symbolOffset: [0, -7], lineStyle: { color: '#000', width: 2 } },
          axisTick: { customValues: major, length: 10, lineStyle: { color: '#000', width: 2 } },
          axisLabel: { customValues: major, margin: 20, padding: [0, 0, 0, 15], fontSize: 15, color: '#111', fontFamily: FONT } },
        { ...base, position: 'bottom',
          axisLine: { show: false, onZero: false },
          axisTick: { customValues: minor, length: 5, lineStyle: { color: '#000', width: 2 } },
          axisLabel: { show: false } }
    ];
}
function yAxes(grid, min, max) {
    const base = { type: 'value', gridIndex: grid, min, max, splitLine: { show: false } };
    return [
        { ...base, position: 'left',
          axisLine: { onZero: false, symbol: ['none', chevron], symbolSize: [26, 14], symbolOffset: [0, -7], lineStyle: { color: '#000', width: 2 } },
          axisTick: { customValues: majorTicksY, length: 10, lineStyle: { color: '#000', width: 2 } },
          axisLabel: { customValues: majorTicksY, margin: 15, fontSize: 15, color: '#111', fontFamily: FONT } },
        { ...base, position: 'left',
          axisLine: { show: false, onZero: false },
          axisTick: { customValues: minorTicksY, length: 5, lineStyle: { color: '#000', width: 2 } },
          axisLabel: { show: false } }
    ];
}
function dots(color, data, axis) {
    return { type: 'scatter', xAxisIndex: axis, yAxisIndex: axis, data, symbol: 'rect', symbolSize: 8.5,
             clip: false, silent: true, itemStyle: { color, opacity: 1 } };
}
function fit(data, axis) {
    return { type: 'line', xAxisIndex: axis, yAxisIndex: axis, data, showSymbol: false, silent: true, z: 5,
             lineStyle: { color: '#000', width: 2 } };
}
function txt(text, x, y, size, extra) {
    return { type: 'text', x, y, silent: true, z: 10, style: { text, fontSize: size, fontFamily: FONT, fill: '#111', ...extra } };
}
const chart = echarts.init(document.getElementById('chart'), null, { renderer: 'canvas' });
chart.setOption({
    animation: false,
    grid: [
        { left: 81, top: 37, width: 474, height: 502 },
        { left: 713, top: 39, width: 471, height: 500 }
    ],
    xAxis: [...xAxes(0, -1.531, 1.738, majorTicksL, minorTicksL), ...xAxes(1, -2, 1.058, majorTicksR, minorTicksR)],
    yAxis: [...yAxes(0, -0.635, 1.875), ...yAxes(1, -0.63, 1.87)],
    series: [
        dots(COLORS.gray, [...graySparseL, ...expand(grayBandL)], 0),
        dots(COLORS.tan, [...tanSparseL, ...expand(tanBandL)], 0),
        dots(COLORS.cyan, [...cyanSparseL, ...expand(cyanBandL)], 0),
        dots(COLORS.red, redL, 0),
        dots(COLORS.blue, blueL, 0),
        fit(fitL, 0),
        dots(COLORS.gray, [...graySparseR, ...expand(grayBandR)], 2),
        dots(COLORS.tan, [...tanSparseR, ...expand(tanBandR)], 2),
        dots(COLORS.cyan, [...cyanSparseR, ...expand(cyanBandR)], 2),
        dots(COLORS.red, redR, 2),
        dots(COLORS.blue, blueR, 2),
        fit(fitR, 2)
    ],
    graphic: [
        { type: 'rect', silent: true, shape: { x: 8.5, y: 13.5, width: 564, height: 600 }, style: { fill: 'none', stroke: '#111', lineWidth: 2 } },
        { type: 'rect', silent: true, shape: { x: 640, y: 16, width: 600, height: 600 }, style: { fill: 'none', stroke: '#111', lineWidth: 2 } },
        txt('txPDIavMed09a11', 13, 18, 20.8),
        txt('txPDIavMed09a11', 645, 21, 20.8),
        txt('R=-.36 R2=.13  log10(y)=-.241log10(x)+.931', 233, 18, 16.9),
        txt('R=-.21 R2=.04  log10(y)=-.133log10(x)+.778', 864, 21, 16.9),
        { ...txt('Sem religião', 571, 405, 20.5), rotation: -Math.PI / 2 },
        { ...txt('Outras religiosidades', 1195, 328, 21.5), rotation: -Math.PI / 2 }
    ]
});
</script>
</body>
</html>
